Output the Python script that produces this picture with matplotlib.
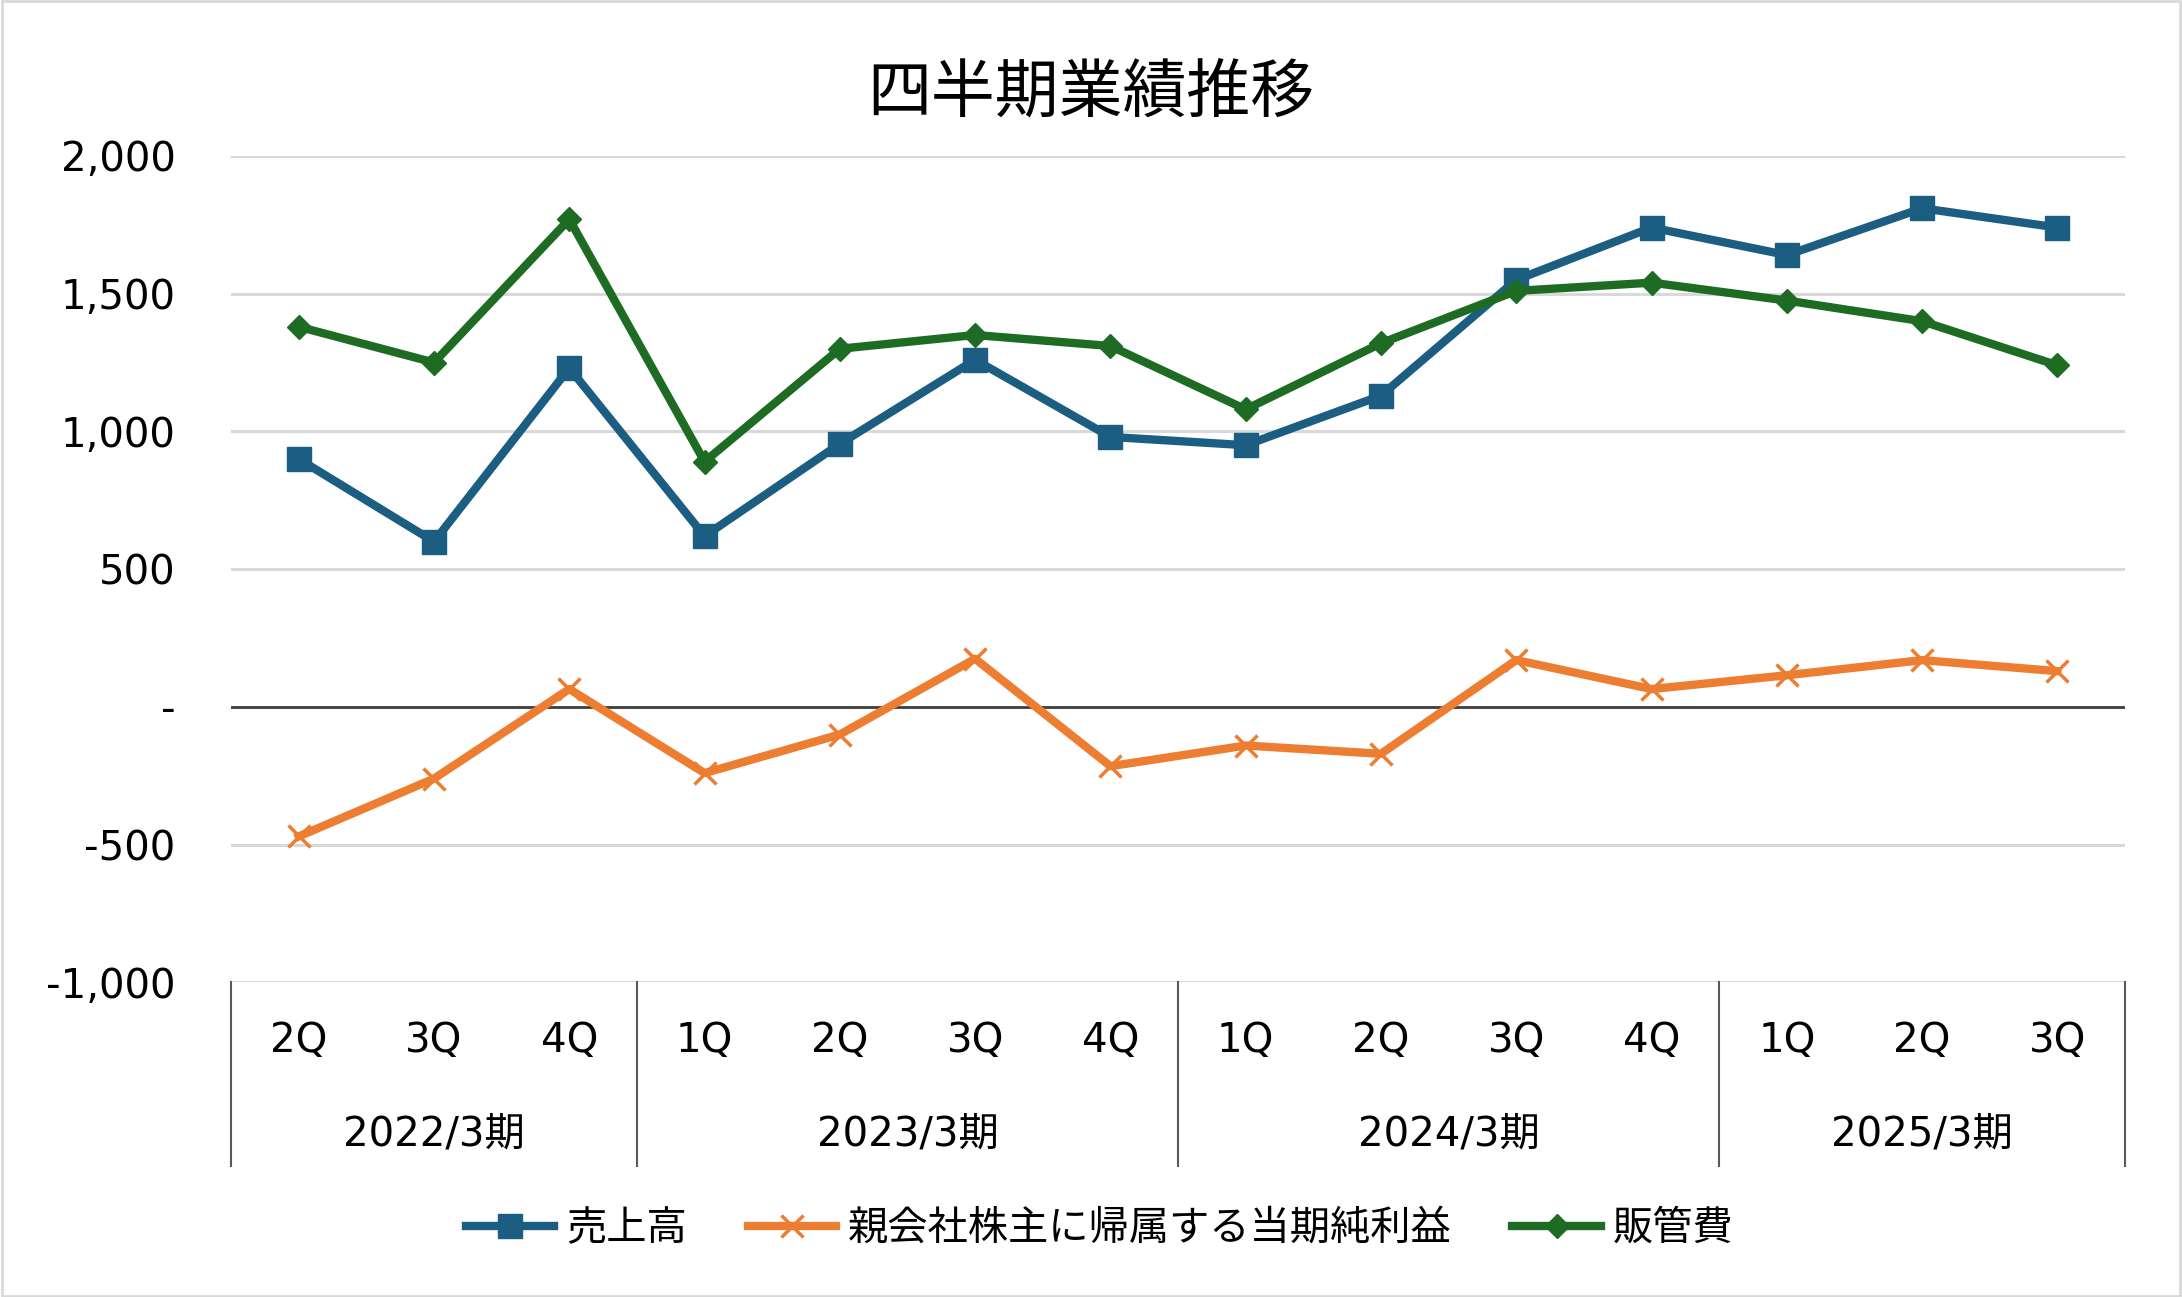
import matplotlib.pyplot as plt
from matplotlib.patches import Rectangle
from matplotlib.ticker import FuncFormatter
import matplotlib.transforms as mtransforms

plt.rcParams['font.family'] = ['DejaVu Sans', 'Noto Sans CJK JP']

quarters = ["2Q", "3Q", "4Q", "1Q", "2Q", "3Q", "4Q", "1Q", "2Q", "3Q", "4Q", "1Q", "2Q", "3Q"]
years = ["2022/3期", "2023/3期", "2024/3期", "2025/3期"]
year_sizes = [3, 4, 4, 3]

sales = [900, 600, 1230, 620, 955, 1260, 980, 950, 1130, 1550, 1740, 1640, 1810, 1740]
net_income = [-470, -260, 65, -240, -100, 175, -215, -140, -170, 170, 65, 115, 170, 130]
sga = [1380, 1250, 1770, 890, 1300, 1350, 1310, 1080, 1320, 1510, 1540, 1475, 1400, 1240]

c_blue = "#1B5E82"
c_orange = "#ED7D31"
c_green = "#1E6B24"

fig = plt.figure(figsize=(21.82, 12.97), dpi=100)
ax = fig.add_axes([0.1059, 0.2425, 0.868, 0.6373])

x = list(range(len(quarters)))
ax.plot(x, sales, color=c_blue, lw=6, marker="s", ms=17, label="売上高", zorder=3)
ax.plot(x, net_income, color=c_orange, lw=6, marker="x", ms=16, mew=2.5, label="親会社株主に帰属する当期純利益", zorder=3)
ax.plot(x, sga, color=c_green, lw=6, marker="D", ms=12, label="販管費", zorder=3)

ax.set_xlim(-0.5, len(quarters) - 0.5)
ax.set_ylim(-1000, 2000)
ax.set_yticks(range(-1000, 2001, 500))
ax.yaxis.set_major_formatter(FuncFormatter(lambda v, p: "-" if v == 0 else f"{int(v):,}"))
ax.grid(axis="y", color="#D9D9D9", lw=2.2)
ax.axhline(0, color="#404040", lw=2, zorder=2)
for s in ax.spines.values():
    s.set_visible(False)
ax.tick_params(axis="y", length=0, pad=40, labelsize=29)
ax.set_xticks([])

trans = mtransforms.blended_transform_factory(ax.transData, ax.transAxes)
for i, q in enumerate(quarters):
    ax.text(i, -0.0707, q, transform=trans, ha="center", va="center", fontsize=29)
bounds = [-0.5]
for n in year_sizes:
    bounds.append(bounds[-1] + n)
for b in bounds:
    ax.plot([b, b], [0, -0.222], transform=trans, color="#595959", lw=1.5, clip_on=False)
for i, y in enumerate(years):
    ax.text((bounds[i] + bounds[i + 1]) / 2, -0.1835, y, transform=trans, ha="center", va="center", fontsize=29)

fig.suptitle("四半期業績推移", y=0.928, va="center", fontsize=46)

fig.legend(loc="center", bbox_to_anchor=(0.504, 0.0526), ncol=3, frameon=False,
           fontsize=29, handlelength=2.2, columnspacing=1.5, handletextpad=0.3)

fig.patches.append(Rectangle((0.001, 0.001), 0.998, 0.998, transform=fig.transFigure,
                             fill=False, edgecolor="#D9D9D9", lw=2))

fig.savefig("out.png", dpi=100)
